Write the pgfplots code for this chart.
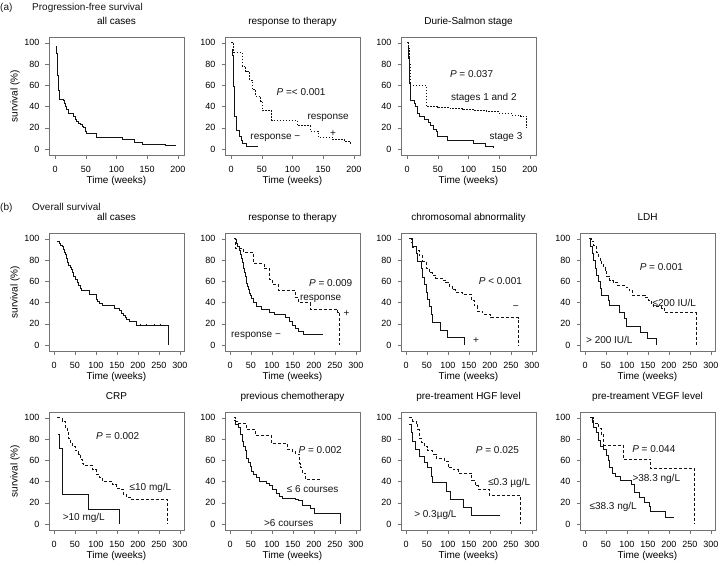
\documentclass[border=0pt]{standalone}
\usepackage{fontspec}
\setmainfont{Liberation Sans}
\usepackage{pgfplots}
\pgfplotsset{compat=1.18}
\definecolor{boxc}{gray}{0.45}
\definecolor{linec}{gray}{0.08}
\pgfplotsset{
 km/.style={
   scale only axis, width=135pt, height=118pt, anchor=north west,
   ymin=-5.5, ymax=105.5, ytick={0,20,...,100},
   axis line style={boxc, line width=0.8pt},
   tick style={boxc, line width=0.6pt},
   tick align=outside, major tick length=3.5pt,
   xtick pos=left, ytick pos=left,
   tick label style={font=\fontsize{9}{10}\selectfont, /pgf/number format/assume math mode=true},
   xticklabel style={anchor=base, inner sep=0pt, yshift=-14pt},
   yticklabel style={anchor=east, inner sep=0pt, xshift=-6pt},
   title style={font=\fontsize{10}{12}\selectfont, at={(0.5,1)}, anchor=base, yshift=7pt, inner sep=0pt},
   xlabel={Time (weeks)},
   xlabel style={font=\fontsize{10}{12}\selectfont, at={(axis description cs:0.5,0)}, anchor=base, yshift=-28.5pt, inner sep=0pt},
   ylabel style={font=\fontsize{10}{12}\selectfont, at={(axis description cs:-0.252,0.5)}, anchor=center, inner sep=0pt},
   scaled ticks=false,
 },
 kma/.style={km, xmin=-10, xmax=210, xtick={0,50,...,200}},
 kmb/.style={km, xmin=-12, xmax=310, xtick={0,50,...,300}},
 s/.style={const plot, linec, line width=0.9pt, mark=none},
 dt/.style={const plot, linec, line width=0.9pt, mark=none, dash pattern=on 1.5pt off 1.5pt},
 ds/.style={const plot, linec, line width=0.9pt, mark=none, dash pattern=on 3pt off 2pt},
}
\tikzset{annot/.style={font=\fontsize{10}{12}\selectfont, inner sep=0pt, text=linec}}
\begin{document}
\begin{tikzpicture}
\path[use as bounding box] (0pt,0pt) rectangle (720pt,-562pt);
\node[annot, anchor=base west] at (0pt,-10.5pt) {(a)};
\node[annot, anchor=base west] at (32pt,-10.5pt) {Progression-free survival};
\node[annot, anchor=base west] at (0pt,-210.5pt) {(b)};
\node[annot, anchor=base west] at (32pt,-210.5pt) {Overall survival};

% (a) 1
\begin{axis}[kma, at={(49pt,-37pt)}, title={all cases}, ylabel={survival (\%)}]
\addplot[s] coordinates {(1,97)(2,90)(3,84)(4,69)(6,55)(7,47)(13,46)(15,43)(16,40)(19,37)(21,34)(27,34)(30,31)(33,28)(35,26)(38,24)(41,23)(44,21)(46,20)(49,17)(51,15)(68,11)(109,9)(129,6.5)(142,4.5)(160,4)(180,3.5)(196,3)};
\end{axis}

% (a) 2
\begin{axis}[kma, at={(225pt,-37pt)}, title={response to therapy}]
\addplot[dt] coordinates {(0,100)(4,91)(18,78)(24,73)(30,65)(34,56)(40,50)(48,45)(51,36)(66,27)(108,22)(129,17)(142,11)(165,9)(185,7)(195,5)};
\addplot[s] coordinates {(1,94)(2,88)(3,81)(3.5,70)(4,59)(5,45)(6,31)(8,22)(9,18)(13,12)(17,8)(19,5)(25,3)(44,3)};
\node[annot] at (axis cs:114,54) {\textit{P} =< 0.001};
\node[annot] at (axis cs:158,29) {response};
\node[annot] at (axis cs:166,15) {+};
\node[annot] at (axis cs:72,11) {response −};
\end{axis}

% (a) 3
\begin{axis}[kma, at={(401pt,-37pt)}, title={Durie-Salmon stage}]
\addplot[dt] coordinates {(0,100)(2,95)(3,80)(5,60)(31,40)(50,39)(70,38)(90,37)(110,36)(130,35)(150,34)(170,32)(185,31)(195,20)};
\addplot[s] coordinates {(1,97)(2,85)(3,75)(4,62)(5,52)(6,46)(12,43)(13,40)(17,34)(20,31)(28,28)(34,25)(38,22)(43,19)(47,17)(50,12)(65,8)(108,5)(127,3)(141,1)};
\node[annot] at (axis cs:105,71) {\textit{P} = 0.037};
\node[annot] at (axis cs:125,48) {stages 1 and 2};
\node[annot] at (axis cs:161,11) {stage 3};
\end{axis}

% (b) 1
\begin{axis}[kmb, at={(49pt,-233pt)}, title={all cases}, ylabel={survival (\%)}]
\addplot[s] coordinates {(8,98)(12,96)(15,94)(19,93)(22,90)(25,87)(27,85)(30,82)(33,78)(35,75)(38,73)(41,71)(43,68)(46,65)(50,62)(55,59)(59,56)(62,53)(66,51)(84,48)(100,43)(104,41)(108,39)(116,37)(145,35)(155,33)(160,30)(165,28)(170,26)(173,24)(181,22)(197,19)(273,0)};
\addplot[only marks, mark=|, mark size=1.3pt, linec, mark options={line width=0.5pt}] coordinates {(205,19)(221,19)(238,19)(254,19)};
\end{axis}

% (b) 2
\begin{axis}[kmb, at={(225pt,-233pt)}, title={response to therapy}]
\addplot[ds] coordinates {(9,100)(13,91)(33,87)(57,77)(81,72)(95,62)(102,57)(116,51)(157,45)(164,40)(191,34)(257,31)(262,0)};
\addplot[s] coordinates {(11,99)(15,96)(18,93)(22,89)(25,85)(27,82)(29,78)(31,75)(33,72)(35,68)(36,65)(38,61)(40,58)(42,55)(44,52)(46,49)(48,47)(52,44)(56,40)(62,36)(75,34)(95,31)(106,29)(133,26)(141,22)(150,19)(157,16)(164,13)(176,10)(222,10)};
\node[annot] at (axis cs:240,58) {\textit{P} = 0.009};
\node[annot] at (axis cs:216,44) {response};
\node[annot] at (axis cs:278,30) {+};
\node[annot] at (axis cs:62,9) {response −};
\end{axis}

% (b) 3
\begin{axis}[kmb, at={(401pt,-233pt)}, title={chromosomal abnormality}]
\addplot[ds] coordinates {(8,100)(12,97)(16,92)(24,89)(32,84)(40,79)(48,72)(56,68)(63,66)(71,63)(87,61)(95,59)(103,55)(111,52)(119,50)(135,48)(155,42)(163,37)(171,32)(183,29)(202,26)(268,0)};
\addplot[s] coordinates {(12,100)(16,93)(24,86)(28,79)(36,72)(40,64)(44,57)(48,50)(52,43)(56,36)(60,29)(64,21)(83,14)(99,7)(139,0)};
\node[annot] at (axis cs:225,60) {\textit{P} < 0.001};
\node[annot] at (axis cs:262,35) {−};
\node[annot] at (axis cs:167,4) {+};
\end{axis}

% (b) 4
\begin{axis}[kmb, at={(580pt,-233pt)}, title={LDH}]
\addplot[ds] coordinates {(9,100)(15,98)(21,94)(28,87)(32,83)(36,79)(40,76)(44,73)(48,69)(52,65)(59,61)(67,59)(78,56)(98,54)(105,51)(113,47)(144,45)(152,42)(159,38)(163,36)(182,35)(190,31)(265,0)};
\addplot[s] coordinates {(9,100)(13,93)(17,86)(21,80)(25,72)(28,66)(32,60)(36,53)(40,47)(55,42)(59,37)(82,31)(94,25)(98,18)(132,12)(148,6)(170,0)};
\node[annot] at (axis cs:182,73) {\textit{P} = 0.001};
\node[annot] at (axis cs:213,40) {≤200 IU/L};
\node[annot] at (axis cs:58,5) {> 200 IU/L};
\end{axis}

% (b) 5
\begin{axis}[kmb, at={(49pt,-412pt)}, title={CRP}, ylabel={survival (\%)}]
\addplot[ds] coordinates {(8,100)(19,97)(27,91)(31,86)(35,81)(39,76)(43,73)(51,69)(59,66)(63,61)(67,57)(71,55)(92,51)(100,47)(108,44)(116,40)(140,37)(148,34)(157,33)(165,28)(173,25)(185,23)(270,0)};
\addplot[s] coordinates {(9,84)(14,71)(19,57)(21,28)(82,14)(157,0)};
\node[annot] at (axis cs:152,83) {\textit{P} = 0.002};
\node[annot] at (axis cs:230,34) {≤10 mg/L};
\node[annot] at (axis cs:71,6) {>10 mg/L};
\end{axis}

% (b) 6
\begin{axis}[kmb, at={(225pt,-412pt)}, title={previous chemotherapy}]
\addplot[ds] coordinates {(9,100)(13,97)(17,95)(40,89)(60,83)(99,76)(137,70)(150,68)(157,66)(165,57)(168,53)(172,48)(180,42)(219,42)};
\addplot[s] coordinates {(9,98)(13,94)(21,91)(25,84)(29,78)(33,73)(36,69)(40,62)(44,58)(48,54)(52,50)(56,47)(64,44)(71,40)(87,38)(95,36)(102,33)(110,29)(118,26)(126,24)(157,23)(164,22)(172,18)(191,15)(201,10)(264,0)};
\node[annot] at (axis cs:215,70) {\textit{P} = 0.002};
\node[annot] at (axis cs:197,33) {≤ 6 courses};
\node[annot] at (axis cs:140,1) {>6 courses};
\end{axis}

% (b) 7
\begin{axis}[kmb, at={(401pt,-412pt)}, title={pre-treament HGF level}]
\addplot[ds] coordinates {(8,100)(16,97)(24,95)(28,89)(32,81)(36,77)(44,73)(52,69)(64,66)(72,62)(92,59)(100,53)(112,51)(124,48)(157,41)(165,36)(173,33)(198,27)(272,0)};
\addplot[s] coordinates {(8,94)(12,86)(16,78)(22,70)(32,64)(44,58)(52,53)(60,45)(64,39)(97,31)(106,23)(136,16)(156,8)(224,8)};
\node[annot] at (axis cs:218,70) {\textit{P} = 0.025};
\node[annot] at (axis cs:246,39) {≤0.3 µg/L};
\node[annot] at (axis cs:70,9) {> 0.3µg/L};
\end{axis}

% (b) 8
\begin{axis}[kmb, at={(580pt,-412pt)}, title={pre-treament VEGF level}]
\addplot[ds] coordinates {(13,100)(20,95)(33,90)(40,84)(45,74)(92,61)(157,52)(262,0)};
\addplot[s] coordinates {(13,100)(17,96)(20,91)(28,86)(32,79)(36,73)(43,70)(51,65)(55,60)(58,53)(66,48)(73,45)(85,41)(111,37)(119,30)(130,25)(142,20)(153,17)(157,12)(191,6)(212,6)};
\node[annot] at (axis cs:164,71) {\textit{P} = 0.044};
\node[annot] at (axis cs:170,43) {>38.3 ng/L};
\node[annot] at (axis cs:67,16) {≤38.3 ng/L};
\end{axis}
\end{tikzpicture}
\end{document}
